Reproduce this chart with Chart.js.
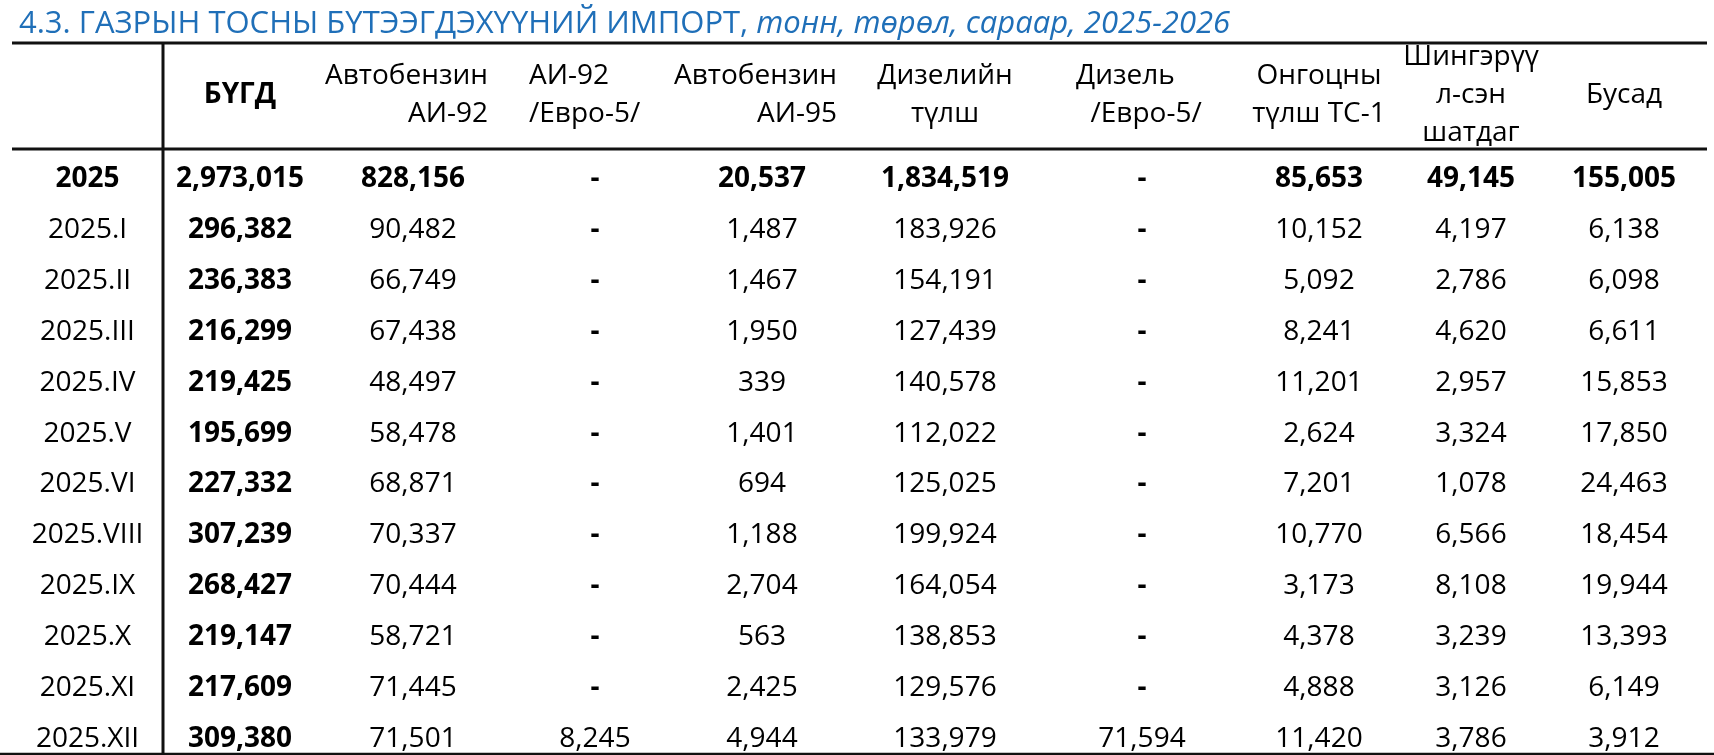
<!DOCTYPE html>
<html lang="mn">
<head>
<meta charset="utf-8">
<title>Газрын тосны бүтээгдэхүүний импорт</title>
<script src="https://cdn.jsdelivr.net/npm/chart.js@4.4.1/dist/chart.umd.min.js"></script>
<style>
    html, body { margin: 0; padding: 0; background: #fff; }
    #wrap { width: 1714px; height: 755px; }
</style>
</head>
<body>
<div id="wrap"><canvas id="import-table" width="1714" height="755"></canvas></div>
<script>
// Мөрүүд (сараар)
const rowLabels = ["2025", "2025.I", "2025.II", "2025.III", "2025.IV", "2025.V",
    "2025.VI", "2025.VIII", "2025.IX", "2025.X", "2025.XI", "2025.XII"];

// Баганын гарчиг (мөр мөрөөр)
const columnHeaders = [
    [""],
    ["БҮГД"],
    ["Автобензин", "АИ-92"],
    ["АИ-92", "/Евро-5/"],
    ["Автобензин", "АИ-95"],
    ["Дизелийн", "түлш"],
    ["Дизель", "  /Евро-5/"],
    ["Онгоцны", "түлш ТС-1"],
    ["Шингэрүү", "л-сэн", "шатдаг"],
    ["Бусад"],
];

// Утгууд, тонн (null = "-")
const total       = [2973015, 296382, 236383, 216299, 219425, 195699, 227332, 307239, 268427, 219147, 217609, 309380];
const ai92        = [828156, 90482, 66749, 67438, 48497, 58478, 68871, 70337, 70444, 58721, 71445, 71501];
const ai92Euro5   = [null, null, null, null, null, null, null, null, null, null, null, 8245];
const ai95        = [20537, 1487, 1467, 1950, 339, 1401, 694, 1188, 2704, 563, 2425, 4944];
const diesel      = [1834519, 183926, 154191, 127439, 140578, 112022, 125025, 199924, 164054, 138853, 129576, 133979];
const dieselEuro5 = [null, null, null, null, null, null, null, null, null, null, null, 71594];
const jetFuel     = [85653, 10152, 5092, 8241, 11201, 2624, 7201, 10770, 3173, 4378, 4888, 11420];
const lpg         = [49145, 4197, 2786, 4620, 2957, 3324, 1078, 6566, 8108, 3239, 3126, 3786];
const other       = [155005, 6138, 6098, 6611, 15853, 17850, 24463, 18454, 19944, 13393, 6149, 3912];

const series = [total, ai92, ai92Euro5, ai95, diesel, dieselEuro5, jetFuel, lpg, other];

// Баганын өргөн (Excel шиг), x тэнхлэгийн нэгж = px
const colWidths = [151, 154, 192, 172, 162, 204, 190, 164, 140, 166];
const colStart = colWidths.map((w, i) => colWidths.slice(0, i).reduce((a, b) => a + b, 0));
const colCenter = colWidths.map((w, i) => colStart[i] + w / 2);

// Гарчгийн байрлал: center | right | left
const headerAlign = ["center", "center", "right", "left", "right", "center", "left", "center", "center", "center"];

const FONT = "'Open Sans', 'Noto Sans', sans-serif";
const SIZE = 28;
const TITLE_SIZE = 31;
const TITLE_BLUE = "#1F6FB8";

const fmt = (v) => (v === null ? "-" : v.toLocaleString("en-US"));

const tablePlugin = {
    id: "tableCells",
    afterDatasetsDraw(chart) {
        const { ctx, scales } = chart;
        const x = scales.x;
        const y = scales.y;
        const headLine = y.getPixelForValue(0) - 28; // гарчгийн доод шугам
        const topLine = headLine - 106;
        const bottomLine = y.getPixelForValue(rowLabels.length - 1) + 17;
        const divider = x.getPixelForValue(colWidths[0]);

        ctx.save();

        // Гарчиг
        ctx.textBaseline = "alphabetic";
        ctx.fillStyle = TITLE_BLUE;
        ctx.textAlign = "left";
        ctx.font = `${TITLE_SIZE}px ${FONT}`;
        const t1 = "4.3. ГАЗРЫН ТОСНЫ БҮТЭЭГДЭХҮҮНИЙ ИМПОРТ, ";
        ctx.fillText(t1, x.left + 7, topLine - 10);
        const w1 = ctx.measureText(t1).width;
        ctx.font = `italic ${TITLE_SIZE}px ${FONT}`;
        ctx.fillText("тонн, төрөл, сараар, 2025-2026", x.left + 7 + w1, topLine - 10);

        // Шугамууд
        ctx.strokeStyle = "#111";
        ctx.lineWidth = 3;
        ctx.beginPath();
        ctx.moveTo(x.left, topLine);
        ctx.lineTo(x.right, topLine);
        ctx.moveTo(x.left, headLine);
        ctx.lineTo(x.right, headLine);
        ctx.moveTo(divider, topLine);
        ctx.lineTo(divider, bottomLine);
        ctx.stroke();
        ctx.lineWidth = 2.5;
        ctx.beginPath();
        ctx.moveTo(0, bottomLine);
        ctx.lineTo(chart.width, bottomLine);
        ctx.stroke();

        // Баганын гарчиг
        ctx.fillStyle = "#000";
        const headMid = (topLine + headLine) / 2 - 3;
        const lineH = 38;
        columnHeaders.forEach((lines, c) => {
            const cx = x.getPixelForValue(colCenter[c]);
            ctx.font = (c === 1 ? "bold " : "") + `${SIZE}px ${FONT}`;
            const align = headerAlign[c];
            lines.forEach((txt, k) => {
                const cy = headMid + (k - (lines.length - 1) / 2) * lineH;
                let tx = cx;
                if (align === "right") {
                    ctx.textAlign = "right";
                    tx = cx + 75;
                } else if (align === "left") {
                    ctx.textAlign = "left";
                    tx = cx - 66;
                } else {
                    ctx.textAlign = "center";
                }
                ctx.fillText(txt, tx, cy + 10);
            });
        });

        // Мөрийн нэр
        ctx.textAlign = "center";
        rowLabels.forEach((lab, r) => {
            ctx.font = (r === 0 ? "bold " : "") + `${SIZE}px ${FONT}`;
            ctx.fillText(lab, x.getPixelForValue(colCenter[0]), y.getPixelForValue(r) + 10);
        });

        // Нүднүүд
        chart.data.datasets.forEach((ds, d) => {
            const meta = chart.getDatasetMeta(d);
            meta.data.forEach((pt, r) => {
                const v = ds.data[r].v;
                const bold = d === 0 || r === 0 || v === null;
                ctx.font = (bold ? "bold " : "") + `${SIZE}px ${FONT}`;
                ctx.fillText(fmt(v), pt.x, pt.y + 10);
            });
        });

        ctx.restore();
    },
};

const seriesNames = columnHeaders.slice(1).map((l) => l.join(" ").trim());

new Chart(document.getElementById("import-table"), {
    type: "scatter",
    data: {
        datasets: series.map((values, s) => ({
            label: seriesNames[s],
            data: values.map((v, r) => ({ x: colCenter[s + 1], y: rowLabels[r], v })),
            pointRadius: 0,
            pointHoverRadius: 0,
            showLine: false,
        })),
    },
    options: {
        responsive: false,
        animation: false,
        layout: { padding: { left: 12, right: 7, top: 177, bottom: 18 } },
        plugins: {
            legend: { display: false },
            tooltip: { enabled: false },
            title: { display: false },
        },
        scales: {
            x: { type: "linear", min: 0, max: colWidths.reduce((a, b) => a + b, 0), display: false },
            y: { type: "category", labels: rowLabels, offset: false, display: false },
        },
    },
    plugins: [tablePlugin],
});
</script>
</body>
</html>
